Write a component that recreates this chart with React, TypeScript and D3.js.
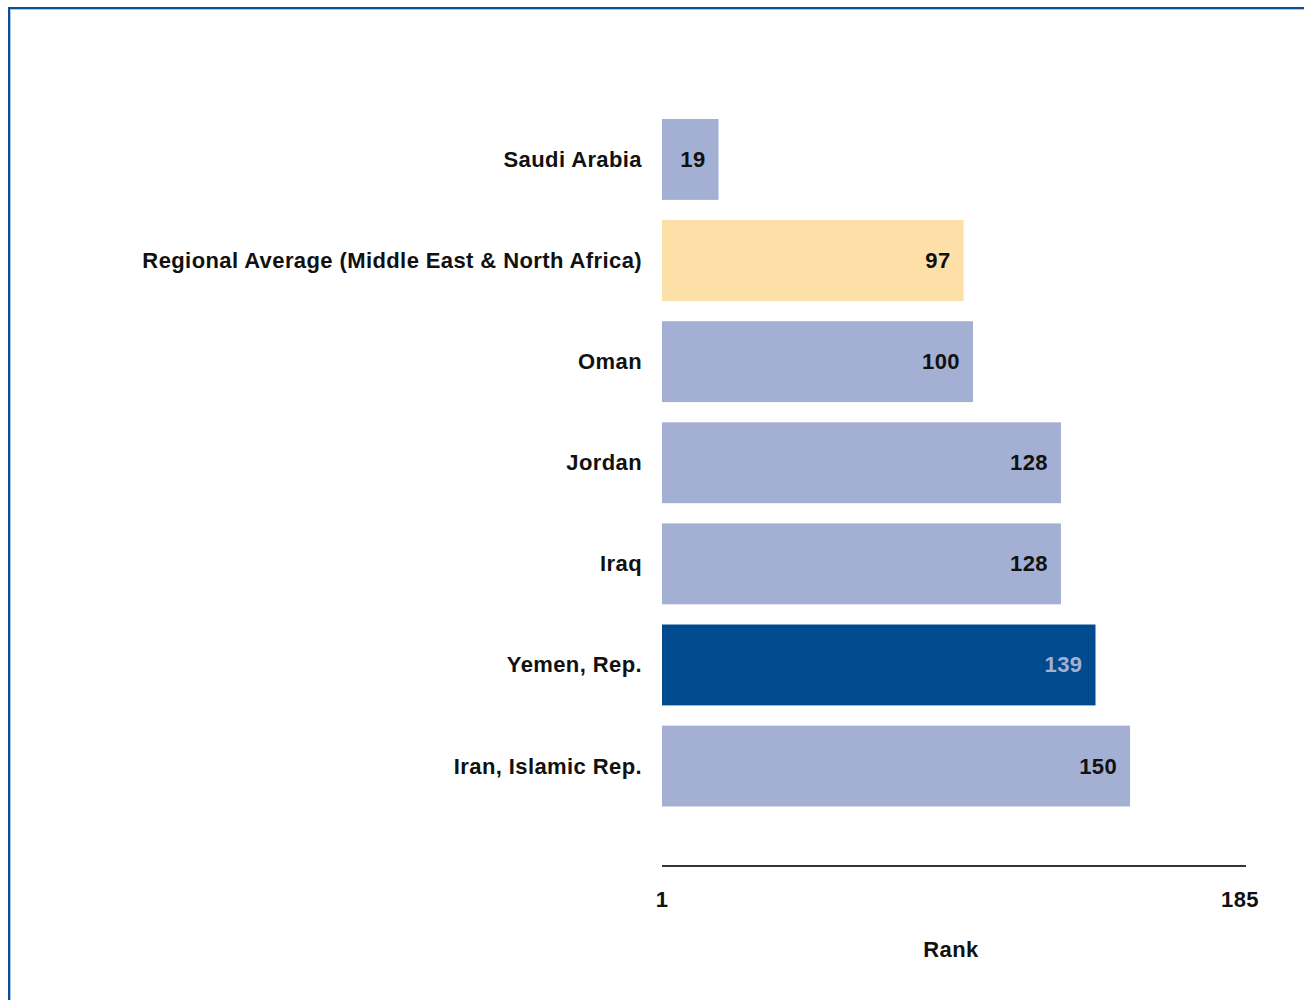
import React from "react";
import * as d3 from "d3";

const categories = [
  "Saudi Arabia",
  "Regional Average (Middle East & North Africa)",
  "Oman",
  "Jordan",
  "Iraq",
  "Yemen, Rep.",
  "Iran, Islamic Rep.",
];
const ranks = [19, 97, 100, 128, 128, 139, 150];
const rankDomain = [1, 185];
const tickLabels = ["1", "185"];
const axisTitle = "Rank";

const HIGHLIGHT = "Yemen, Rep.";
const REGIONAL = "Regional Average (Middle East & North Africa)";

const W = 1304;
const H = 1000;
const FONT = "'Liberation Sans', Arial, sans-serif";
const FS = 22;
const LS = 0.4;

const App: React.FC = () => {
  const x = d3.scaleLinear().domain(rankDomain).range([662, 1240]);
  const y = d3
    .scaleBand<string>()
    .domain(categories)
    .range([108.9, 816.6])
    .paddingInner(0.2)
    .paddingOuter(0.1);

  const axisY = 866;

  const fillFor = (c: string) =>
    c === HIGHLIGHT ? "#004B8D" : c === REGIONAL ? "#FDDFA8" : "#A3B0D3";

  return (
    <svg
      width={W}
      height={H}
      style={{ position: "absolute", left: 0, top: 0, background: "#fff" }}
      fontFamily={FONT}
    >
      {/* frame */}
      <rect x={9} y={8} width={W + 20} height={H + 20} fill="none" stroke="#0B4F94" strokeWidth={2} />
      <rect x={10.5} y={9.5} width={W + 20} height={H + 20} fill="none" stroke="#A9C3E3" strokeWidth={1} />

      {categories.map((c, i) => {
        const v = ranks[i];
        const by = y(c)!;
        const bw = y.bandwidth();
        return (
          <g key={c}>
            <rect x={x(1)} y={by} width={x(v) - x(1)} height={bw} fill={fillFor(c)} />
            <text
              x={x(1) - 20}
              y={by + bw / 2}
              textAnchor="end"
              dominantBaseline="central"
              fontSize={FS}
              letterSpacing={LS}
              fontWeight="bold"
              fill="#111"
            >
              {c}
            </text>
            <text
              x={x(v) - 13}
              y={by + bw / 2}
              textAnchor="end"
              dominantBaseline="central"
              fontSize={FS}
              letterSpacing={LS}
              fontWeight="bold"
              fill={c === HIGHLIGHT ? "#A3B0D3" : "#111"}
            >
              {v}
            </text>
          </g>
        );
      })}

      {/* axis */}
      <line x1={x(1)} x2={x(185) + 6} y1={axisY} y2={axisY} stroke="#333" strokeWidth={2} />
      {rankDomain.map((d, i) => (
        <text
          key={d}
          x={x(d)}
          y={899}
          textAnchor="middle"
          dominantBaseline="central"
          fontSize={FS}
          letterSpacing={LS}
          fontWeight="bold"
          fill="#111"
        >
          {tickLabels[i]}
        </text>
      ))}
      <text
        x={(x(1) + x(185)) / 2}
        y={949}
        textAnchor="middle"
        dominantBaseline="central"
        fontSize={FS}
        letterSpacing={LS}
        fontWeight="bold"
        fill="#111"
      >
        {axisTitle}
      </text>
    </svg>
  );
};

export default App;
